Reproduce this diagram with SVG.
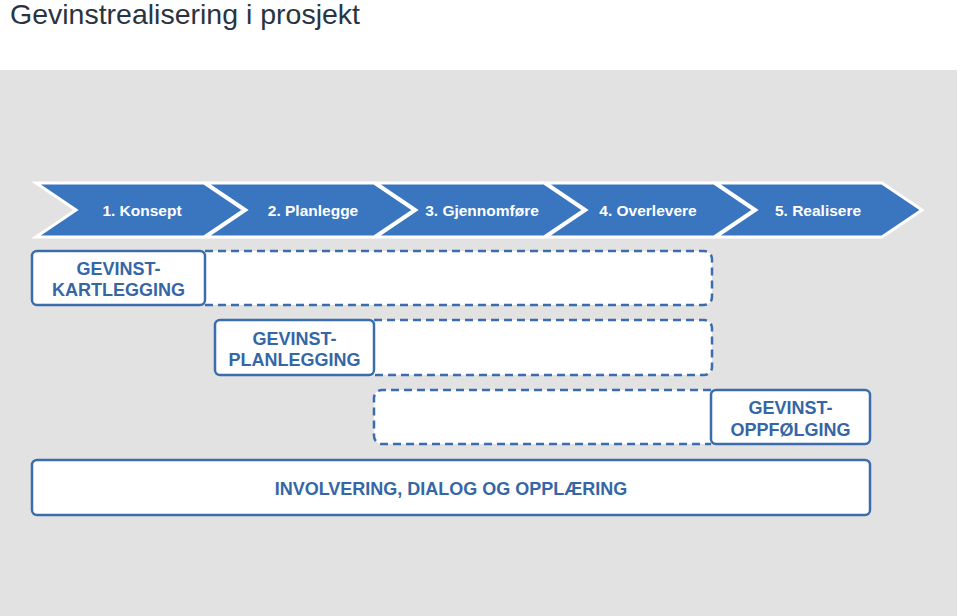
<svg xmlns="http://www.w3.org/2000/svg" width="960" height="616" viewBox="0 0 960 616">
<style>
.title{font-family:"Liberation Sans",Arial,sans-serif;font-size:28px;fill:#2a3441}
.chev{fill:#3a75bf;stroke:#ffffff;stroke-width:3;stroke-linejoin:miter}
.ct{font-family:"Liberation Sans",Arial,sans-serif;font-size:15.5px;font-weight:bold;fill:#ffffff;text-anchor:middle}
.box{fill:#ffffff;stroke:#3b6cad;stroke-width:2.5}
.dash{fill:#ffffff;stroke:#3b6cad;stroke-width:2.5;stroke-dasharray:8 5}
.bt{font-family:"Liberation Sans",Arial,sans-serif;font-size:18px;font-weight:bold;fill:#3566a6;text-anchor:middle}
</style>
<rect x="0" y="0" width="960" height="616" fill="#ffffff"/>
<rect x="0" y="70" width="957" height="546" fill="#e2e2e2"/>
<text class="title" x="10" y="24" textLength="350" lengthAdjust="spacingAndGlyphs">Gevinstrealisering i prosjekt</text>

<g id="phase1"><polygon class="chev" points="36,183 204,183 244,210 204,237 36,237 76,210"/><text class="ct" x="142" y="216">1. Konsept</text></g>
<g id="phase2"><polygon class="chev" points="206,183 374,183 414,210 374,237 206,237 246,210"/><text class="ct" x="313" y="216">2. Planlegge</text></g>
<g id="phase3"><polygon class="chev" points="376,183 544,183 584,210 544,237 376,237 416,210"/><text class="ct" x="482" y="216">3. Gjennomføre</text></g>
<g id="phase4"><polygon class="chev" points="546,183 714,183 754,210 714,237 546,237 586,210"/><text class="ct" x="648" y="216">4. Overlevere</text></g>
<g id="phase5"><polygon class="chev" points="716,183 882,183 922,210 882,237 716,237 756,210"/><text class="ct" x="818" y="216">5. Realisere</text></g>

<g id="kartlegging-span"><path class="dash" d="M205,251 H704 A8,8 0 0 1 712,259 V297 A8,8 0 0 1 704,305 H205"/></g>
<g id="kartlegging"><rect class="box" x="32" y="251" width="173" height="54" rx="5"/><text class="bt" x="118.5" y="275">GEVINST-</text><text class="bt" x="118.5" y="296">KARTLEGGING</text></g>

<g id="planlegging-span"><path class="dash" d="M374,320 H704 A8,8 0 0 1 712,328 V367 A8,8 0 0 1 704,375 H374"/></g>
<g id="planlegging"><rect class="box" x="215" y="320" width="159" height="55" rx="5"/><text class="bt" x="294.5" y="345">GEVINST-</text><text class="bt" x="294.5" y="366">PLANLEGGING</text></g>

<g id="oppfolging-span"><path class="dash" d="M711,390 H382 A8,8 0 0 0 374,398 V436 A8,8 0 0 0 382,444 H711"/></g>
<g id="oppfolging"><rect class="box" x="711" y="390" width="159" height="54" rx="5"/><text class="bt" x="790.5" y="414">GEVINST-</text><text class="bt" x="790.5" y="436">OPPFØLGING</text></g>

<g id="involvering"><rect class="box" x="32" y="460" width="838" height="55" rx="5"/><text class="bt" x="451" y="495">INVOLVERING, DIALOG OG OPPLÆRING</text></g>
<g id="connectors"/>
</svg>
